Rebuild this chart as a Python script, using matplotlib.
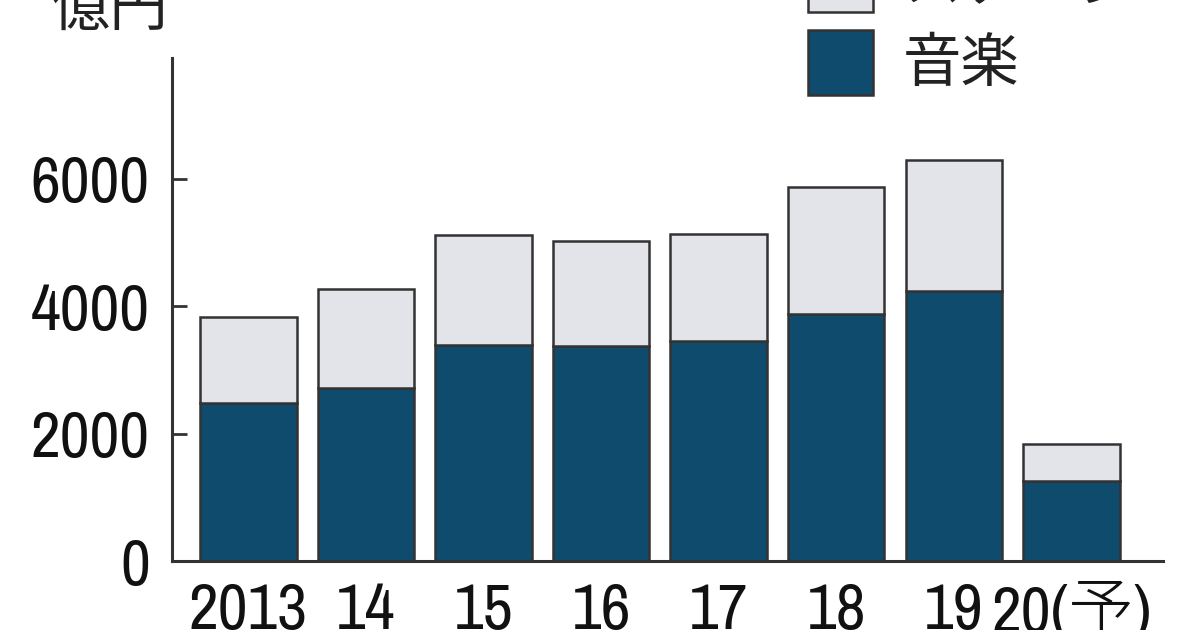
import matplotlib
matplotlib.use("Agg")
import matplotlib.pyplot as plt
from matplotlib.patches import Rectangle
from matplotlib import font_manager

years = ["2013", "14", "15", "16", "17", "18", "19", "20(予)"]
music = [2480, 2720, 3390, 3380, 3460, 3880, 4240, 1260]
stage = [1350, 1550, 1730, 1650, 1680, 1990, 2060, 580]
yticks = [0, 2000, 4000, 6000]
series_names = ["ステージ", "音楽"]
unit_label = "億円"

music_color = "#0e4b6d"
stage_color = "#e3e3ea"
edge_color = "#333333"

# look for a condensed / narrow font for the numbers
num_family = None
num_stretch = "normal"
for f in font_manager.fontManager.ttflist:
    n = f.name
    if "Narrow" in n or "Condensed" in n:
        num_family = n
        break
if num_family is None:
    for f in font_manager.fontManager.ttflist:
        st = f.stretch
        if (isinstance(st, str) and "condensed" in st) or (isinstance(st, (int, float)) and st < 500):
            if f.name in ("DejaVu Sans", "Roboto", "Open Sans", "Noto Sans", "Inter", "Lato", "Liberation Sans"):
                num_family = f.name
                num_stretch = "condensed"
                break
condensed = num_family is not None
if num_family is None:
    num_family = "Liberation Sans"
num_size = 47 if condensed else 41

jp_font = "Noto Sans CJK JP"
plt.rcParams['font.family'] = [num_family, jp_font, 'DejaVu Sans']

W, H = 1200, 630
fig = plt.figure(figsize=(12, 6.3), dpi=100)
ax = fig.add_axes([172 / W, 1 - 561 / H, (1163 - 172) / W, (561 - 58) / H])

x = list(range(len(years)))
ax.bar(x, music, width=0.82, color=music_color, edgecolor=edge_color, linewidth=1.8, zorder=2)
ax.bar(x, stage, width=0.82, bottom=music, color=stage_color, edgecolor=edge_color, linewidth=1.8, zorder=2)

ax.set_xlim(-0.65, 7.78)
ax.set_ylim(0, 7900)
ax.set_yticks(yticks)
ax.set_yticklabels([str(v) for v in yticks], fontsize=num_size, family=[num_family, jp_font],
                   fontstretch=num_stretch, fontweight='light', color="#111111")
ax.set_xticks(x)
ax.set_xticklabels(years, fontsize=num_size, family=[num_family, jp_font],
                   fontstretch=num_stretch, fontweight='light', color="#111111")
ax.tick_params(axis='y', direction='in', length=11, width=2, color=edge_color, pad=16)
ax.tick_params(axis='x', length=0, pad=15)
for s in ["top", "right"]:
    ax.spines[s].set_visible(False)
for s in ["left", "bottom"]:
    ax.spines[s].set_linewidth(2.2)
    ax.spines[s].set_color(edge_color)

# unit label
fig.text(52 / W, 1 - 26 / H, unit_label, fontsize=42, family=[jp_font], va='baseline', ha='left', color="#222222")

# legend (manual)
def frect(x0, y0, x1, y1, color):
    fig.add_artist(Rectangle((x0 / W, 1 - y1 / H), (x1 - x0) / W, (y1 - y0) / H,
                             transform=fig.transFigure, facecolor=color,
                             edgecolor=edge_color, linewidth=1.8, clip_on=False))

frect(808, -53, 873, 12, stage_color)
frect(808, 30, 873, 95, music_color)
fig.text(903 / W, 1 - (-15) / H, series_names[0], fontsize=42, family=[jp_font], va='center', ha='left', color="#222222")
fig.text(903 / W, 1 - 64 / H, series_names[1], fontsize=42, family=[jp_font], va='center', ha='left', color="#222222")

fig.savefig("out.png", dpi=100)
